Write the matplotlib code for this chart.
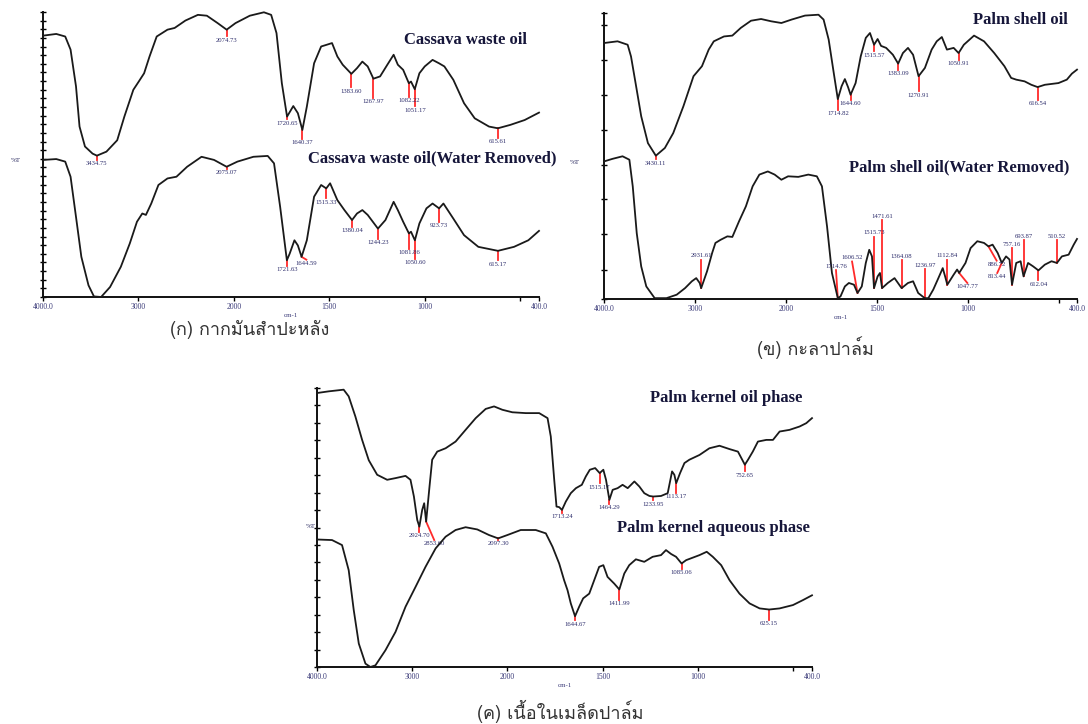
import numpy as np
import matplotlib
matplotlib.use("Agg")

import matplotlib.pyplot as plt
from matplotlib import font_manager
from matplotlib.ft2font import FT2Font


# =====================================================
# SHARED AXIS TEXT
# =====================================================

xtick_values = [4000, 3000, 2000, 1500, 1000, 500, 400]
xtick_labels = ["4000.0", "3000", "2000", "1500", "1000", "", "400.0"]


# =====================================================
# (ก) CASSAVA WASTE OIL
# =====================================================

cassava_wn = [
    4000, 3861, 3767, 3711, 3654, 3617, 3560, 3480, 3434.75, 3335,
    3222, 3147, 3053, 2996, 2940, 2883, 2808, 2695, 2620, 2507,
    2376, 2282, 2169, 2074.73, 1991, 1916, 1842, 1804, 1776, 1748,
    1720.65, 1688, 1664, 1640.37, 1617, 1579, 1542, 1513, 1485, 1457,
    1429, 1383.60, 1354, 1326, 1298, 1267.97, 1233, 1195, 1162, 1140,
    1112, 1082.22, 1071, 1051.17, 1027, 999, 958, 924, 896, 849,
    793, 737, 662, 615.61, 550, 475, 400
]
cassava_t = [
    91.7, 92.3, 91.4, 86.8, 73.9, 59.8, 52.8, 50.3, 49.6, 51.0,
    55.0, 63.3, 72.7, 75.6, 78.5, 84.4, 91.4, 93.8, 94.4, 97.0,
    99.0, 98.7, 96.1, 93.8, 96.1, 98.7, 99.9, 99.0, 92.6, 75.0,
    63.3, 67.0, 64.5, 58.6, 66.8, 82.0, 87.9, 88.5, 89.1, 84.4,
    81.5, 78.3, 80.3, 82.6, 80.9, 76.6, 77.4, 81.5, 85.0, 81.5,
    79.7, 75.0, 75.6, 72.9, 78.5, 80.9, 83.2, 82.0, 80.9, 76.2,
    68.0, 62.7, 59.8, 59.2, 60.4, 62.1, 64.7
]
cassava_peaks = [3434.75, 2074.73, 1720.65, 1640.37, 1383.60,
                 1267.97, 1082.22, 1051.17, 615.61]

cassava_dry_wn = [
    4000, 3861, 3767, 3711, 3654, 3598, 3523, 3466, 3391, 3297,
    3184, 3090, 3015, 2959, 2921, 2865, 2790, 2695, 2601, 2489,
    2338, 2207, 2075.07, 1981, 1897, 1822, 1789, 1757, 1721.63, 1707,
    1682, 1664, 1644.59, 1617, 1579, 1542, 1515.33, 1495, 1457, 1420,
    1380.04, 1354, 1326, 1298, 1244.23, 1205, 1162, 1140, 1112, 1081.86,
    1071, 1050.60, 1027, 990, 958, 923.73, 901, 849, 793, 718,
    615.17, 531, 456, 400
]
cassava_dry_t = [
    48.1, 48.4, 47.5, 42.2, 28.1, 14.1, 4.1, 0.2, 0.0, 3.5,
    10.6, 18.8, 26.4, 29.3, 28.8, 32.8, 39.3, 41.6, 42.2, 45.7,
    49.2, 48.1, 45.7, 47.5, 49.2, 49.5, 46.9, 31.7, 12.9, 15.2,
    19.9, 18.1, 14.1, 19.9, 35.2, 39.3, 38.1, 39.9, 34.0, 30.5,
    27.0, 29.3, 30.5, 28.8, 24.0, 27.0, 33.4, 30.5, 26.4, 22.3,
    22.9, 19.9, 25.8, 31.1, 32.8, 31.1, 32.8, 27.5, 21.7, 17.6,
    16.2, 17.6, 19.9, 23.2
]
cassava_dry_peaks = [2075.07, 1721.63, 1644.59, 1515.33, 1380.04,
                     1244.23, 1081.86, 1050.60, 923.73, 615.17]


# =====================================================
# (ข) PALM SHELL OIL
# =====================================================

shell_wn = [
    4000, 3851, 3740, 3703, 3647, 3591, 3517, 3430.11, 3331, 3239,
    3127, 3016, 2923, 2849, 2793, 2681, 2589, 2496, 2384, 2273,
    2162, 2050, 1969, 1895, 1821, 1793, 1765, 1737, 1714.82, 1694,
    1676, 1658, 1644.60, 1617, 1589, 1561, 1538, 1515.57, 1496, 1477,
    1449, 1412, 1383.09, 1357, 1329, 1301, 1270.91, 1236, 1199, 1171,
    1143, 1115, 1078, 1050.91, 1022, 966, 911, 855, 799, 762,
    734, 688, 651, 616.54, 577, 502, 456, 428, 400
]
shell_t = [
    89.5, 90.1, 88.9, 84.8, 74.4, 63.9, 54.5, 50.1, 52.8, 58.0,
    67.4, 77.9, 81.4, 87.2, 90.1, 91.8, 92.1, 94.8, 97.3, 97.9,
    97.1, 96.5, 97.7, 99.1, 99.4, 97.7, 90.7, 79.0, 69.9, 74.4,
    76.9, 74.0, 71.4, 75.5, 84.8, 91.3, 93.0, 88.9, 90.9, 88.5,
    87.8, 85.4, 82.3, 86.0, 87.8, 85.4, 77.9, 80.8, 87.2, 90.1,
    91.6, 87.2, 87.8, 86.0, 88.9, 92.1, 90.1, 86.0, 81.4, 77.3,
    76.7, 76.1, 74.9, 74.1, 74.9, 75.5, 76.7, 78.8, 80.2
]
shell_peaks = [3430.11, 1714.82, 1644.60, 1515.57, 1383.09,
               1270.91, 1050.91, 616.54]

shell_dry_wn = [
    4000, 3907, 3796, 3721, 3684, 3640, 3591, 3535, 3443, 3313,
    3201, 3109, 3034, 2986, 2948, 2931.61, 2867, 2811, 2775, 2718,
    2644, 2589, 2515, 2440, 2366, 2292, 2199, 2124, 2050, 1988,
    1932, 1877, 1830, 1802, 1774, 1747, 1714.76, 1700, 1676, 1654,
    1626, 1606.52, 1583, 1561, 1542, 1527, 1515.73, 1496, 1483, 1471.61,
    1440, 1403, 1364.08, 1329, 1301, 1273, 1236.97, 1217, 1190, 1162,
    1138, 1125, 1112.84, 1078, 1059, 1047.77, 1013, 985, 948, 911,
    886.72, 864, 836, 813.44, 790, 771, 757.16, 734, 710, 693.87,
    669, 641, 612.04, 577, 540, 510.52, 483, 446, 418, 400
]
shell_dry_t = [
    48.1, 49.0, 49.9, 48.7, 39.4, 23.0, 11.4, 4.4, 0.3, 0.3,
    1.5, 3.8, 6.2, 7.3, 5.6, 3.8, 9.7, 16.1, 19.6, 20.7,
    21.9, 21.7, 27.2, 32.4, 39.4, 43.5, 44.6, 43.5, 41.7, 42.9,
    42.7, 43.5, 42.9, 39.4, 25.4, 9.1, 0.3, 0.9, 4.4, 5.6,
    5.0, 2.1, 4.4, 12.6, 17.2, 14.9, 3.8, 7.9, 9.1, 3.8,
    5.6, 7.3, 3.8, 5.6, 6.2, 2.1, 0.3, 0.3, 3.3, 7.3,
    10.8, 7.9, 5.0, 8.5, 10.3, 9.1, 12.6, 17.8, 20.2, 19.6,
    18.4, 19.0, 16.1, 12.6, 14.9, 13.8, 5.0, 12.6, 13.2, 7.9,
    12.6, 11.4, 10.0, 12.0, 13.2, 12.6, 14.9, 15.5, 19.0, 21.0
]
shell_dry_peaks = [2931.61, 1714.76, 1606.52, 1515.73, 1471.61,
                   1364.08, 1236.97, 1112.84, 1047.77, 886.72,
                   813.44, 757.16, 693.87, 612.04, 510.52]


# =====================================================
# (ค) PALM KERNEL
# =====================================================

kernel_oil_wn = [
    4000, 3877, 3720, 3667, 3597, 3526, 3456, 3368, 3263, 3175,
    3070, 3018, 2982, 2947, 2924.70, 2895, 2874, 2853.60, 2818, 2790,
    2737, 2649, 2544, 2439, 2333, 2228, 2140, 2053, 1974, 1904,
    1833, 1789, 1772, 1754, 1742, 1728, 1713.24, 1693, 1667, 1640,
    1609, 1588, 1567, 1539, 1515.17, 1496, 1482, 1464.29, 1447, 1421,
    1395, 1368, 1333, 1307, 1281, 1254, 1233.95, 1193, 1158, 1135,
    1123, 1113.17, 1093, 1070, 1044, 991, 939, 886, 833, 789,
    752.65, 736, 711, 684, 640, 605, 570, 518, 465, 430,
    400
]
kernel_oil_t = [
    98.2, 98.8, 99.4, 97.0, 89.8, 81.4, 74.1, 68.9, 67.1, 67.7,
    68.5, 67.1, 61.1, 52.7, 50.3, 56.3, 58.7, 52.1, 64.7, 74.3,
    77.2, 78.4, 80.8, 85.0, 89.2, 92.5, 93.4, 92.2, 91.3, 91.0,
    91.0, 89.2, 82.6, 67.1, 57.5, 57.3, 56.3, 59.3, 62.3, 64.1,
    65.3, 68.3, 70.7, 71.3, 69.5, 70.7, 67.1, 59.9, 63.5, 64.1,
    65.3, 64.1, 66.5, 64.7, 62.3, 61.3, 61.1, 61.3, 62.3, 70.1,
    68.9, 65.9, 69.5, 73.1, 74.3, 76.0, 78.4, 79.3, 78.1, 77.2,
    72.5, 74.3, 77.2, 80.8, 81.4, 81.4, 84.4, 85.0, 86.2, 87.4,
    89.2
]
kernel_oil_peaks = [2924.70, 2853.60, 1713.24, 1515.17, 1464.29,
                    1233.95, 1113.17, 752.65]

kernel_aq_wn = [
    4000, 3842, 3737, 3667, 3614, 3561, 3491, 3439, 3386, 3281,
    3175, 3070, 2965, 2860, 2754, 2649, 2544, 2439, 2316, 2193,
    2097.30, 2000, 1930, 1851, 1798, 1763, 1728, 1702, 1684, 1667,
    1644.67, 1623, 1602, 1570, 1544, 1518, 1496, 1474, 1439, 1411.99,
    1386, 1360, 1325, 1281, 1237, 1193, 1167, 1140, 1114, 1085.06,
    1061, 1026, 991, 953, 921, 877, 833, 781, 728, 675,
    625.15, 570, 500, 447, 400
]
kernel_aq_t = [
    45.7, 45.5, 43.7, 34.7, 20.4, 8.4, 1.2, 0.0, 0.6, 6.0,
    12.6, 21.6, 28.7, 35.9, 42.5, 46.7, 49.1, 50.1, 49.3, 47.3,
    46.1, 47.3, 49.1, 49.1, 47.9, 43.1, 37.1, 31.1, 27.5, 22.8,
    18.2, 21.6, 24.6, 26.3, 31.1, 35.9, 36.5, 32.3, 29.9, 27.8,
    33.5, 36.5, 38.6, 37.7, 39.5, 40.1, 41.9, 40.5, 39.5, 37.1,
    38.3, 39.2, 40.1, 41.3, 39.5, 36.5, 31.1, 26.3, 22.8, 21.0,
    20.6, 21.0, 22.2, 24.0, 25.7
]
kernel_aq_peaks = [2097.30, 1644.67, 1411.99, 1085.06, 625.15]


# =====================================================
# PEAK MARKER LAYOUT
# length of red tick (+ below curve, - above), label x shift in cm-1
# =====================================================

cassava_marks = [(1.5, 0), (2.3, 0), (1.0, 0), (3.0, 0), (4.7, 0),
                 (6.8, 0), (4.7, 0), (6.0, 0), (3.3, 0)]
cassava_dry_marks = [(0.8, 0), (2.0, 0), (1.0, -25), (3.5, 0), (2.3, 0),
                     (3.5, 0), (5.3, 0), (6.4, 0), (4.7, 0), (3.3, 0)]
shell_marks = [(1.2, 0), (3.7, 0), (1.7, 0), (2.3, 0), (2.1, 0),
               (5.2, 0), (2.3, 0), (4.4, 0)]
shell_dry_marks = [(-10.0, 0), (-9.8, 10), (-11.0, 30), (-18.0, 0),
                   (-23.8, 0), (-9.8, 0), (-10.2, 0), (-8.7, 0),
                   (3.5, -45), (5.0, -45), (3.5, 25), (-12.8, 0),
                   (-12.7, 0), (3.4, 0), (-8.0, 0)]
kernel_oil_marks = [(1.8, 0), (6.6, -85), (1.0, 0), (3.6, 0), (1.5, 0),
                    (1.4, 0), (3.4, 0), (2.4, 0)]
kernel_aq_marks = [(0.5, 0), (1.4, 0), (3.8, 0), (1.8, 0), (3.6, 0)]


# =====================================================
# FONTS
# =====================================================

def find_thai_family():

    for entry in font_manager.fontManager.ttflist:
        try:
            if 0x0E01 in FT2Font(entry.fname).get_charmap():
                return entry.name
        except Exception:
            continue

    return "DejaVu Sans"


THAI_FAMILY = find_thai_family()
SERIF = ["Liberation Serif", "DejaVu Serif"]


# =====================================================
# SPLIT WAVENUMBER SCALE (4000-2000 drawn at half density)
# =====================================================

def wn_forward(x):
    x = np.asarray(x, dtype=float)
    return np.where(x > 2000, 2000 + (x - 2000) / 2, x)


def wn_inverse(x):
    x = np.asarray(x, dtype=float)
    return np.where(x > 2000, 2000 + (x - 2000) * 2, x)


W, H = 1088, 724

fig = plt.figure(figsize=(W / 100, H / 100), dpi=100)


def add_frame(x0, y0, x1, y1, yticks):

    ax = fig.add_axes([x0 / W, 1 - y1 / H, (x1 - x0) / W, (y1 - y0) / H])
    ax.set_xscale("function", functions=(wn_forward, wn_inverse))
    ax.set_xlim(4000, 400)
    ax.set_ylim(0, 100)
    ax.patch.set_alpha(0)

    for side in ["top", "right"]:
        ax.spines[side].set_visible(False)
    for side in ["left", "bottom"]:
        ax.spines[side].set_linewidth(1.4)
        ax.spines[side].set_color("#111111")

    ax.set_xticks(xtick_values)
    ax.set_xticklabels(xtick_labels)
    ax.xaxis.set_minor_locator(matplotlib.ticker.NullLocator())
    ax.tick_params(axis="x", direction="out", length=3, width=1,
                   pad=1.5, labelsize=5.5, labelcolor="#3a3a78")
    for lbl in ax.get_xticklabels():
        lbl.set_family(SERIF)

    ax.set_yticks(yticks)
    ax.set_yticklabels([])
    ax.tick_params(axis="y", direction="inout", length=4, width=1)

    ax.set_xlabel("cm-1", fontsize=5, family=SERIF, color="#3a3a78",
                  labelpad=1)

    return ax


def draw_spectrum(ax, wn, t, peaks, marks):

    ax.plot(wn, t, color="#1a1a1a", lw=1.3, solid_joinstyle="round",
            clip_on=False, zorder=3)

    order = np.argsort(wn)
    wn_sorted = np.asarray(wn)[order]
    t_sorted = np.asarray(t)[order]

    for peak, (length, shift) in zip(peaks, marks):

        y0 = np.interp(peak, wn_sorted, t_sorted)
        y1 = y0 - length
        x1 = peak + shift

        ax.plot([peak, x1], [y0, y1], color="#ff2a2a", lw=1.3,
                zorder=2, clip_on=False)

        if length >= 0:
            ax.text(x1, y1 - 0.5, f"{peak:.2f}", ha="center", va="top",
                    fontsize=4.8, family=SERIF, color="#2b2b6a")
        else:
            ax.text(x1, y1 + 0.5, f"{peak:.2f}", ha="center", va="bottom",
                    fontsize=4.8, family=SERIF, color="#2b2b6a")


def title(x_right, y_mid, text):
    fig.text(x_right / W, 1 - y_mid / H, text, ha="right", va="center",
             fontsize=12, fontweight="bold", family=SERIF, color="#16163a")


def plain(x, y, text, size, family, color):
    fig.text(x / W, 1 - y / H, text, ha="center", va="center",
             fontsize=size, family=family, color=color)


# =====================================================
# FRAME (ก)
# =====================================================

ax_a = add_frame(43, 12, 539, 297, np.linspace(0, 100, 34))
draw_spectrum(ax_a, cassava_wn, cassava_t, cassava_peaks, cassava_marks)
draw_spectrum(ax_a, cassava_dry_wn, cassava_dry_t, cassava_dry_peaks,
              cassava_dry_marks)

title(527, 40, "Cassava waste oil")
title(557, 158, "Cassava waste oil(Water Removed)")
plain(16, 161, "%T", 5, SERIF, "#333366")
plain(250, 329, "(ก) กากมันสำปะหลัง", 13, [THAI_FAMILY, "DejaVu Sans"],
      "#333333")


# =====================================================
# FRAME (ข)
# =====================================================

ax_b = add_frame(604, 13, 1077, 299,
                 [0, 10.3, 22.6, 34.8, 47.0, 59.2, 71.5, 83.7, 95.9, 100])
draw_spectrum(ax_b, shell_wn, shell_t, shell_peaks, shell_marks)
draw_spectrum(ax_b, shell_dry_wn, shell_dry_t, shell_dry_peaks,
              shell_dry_marks)

title(1068, 20, "Palm shell oil")
title(1069, 167, "Palm shell oil(Water Removed)")
plain(575, 163, "%T", 5, SERIF, "#333366")
plain(815, 348, "(ข) กะลาปาล์ม", 13, [THAI_FAMILY, "DejaVu Sans"],
      "#333333")


# =====================================================
# FRAME (ค)
# =====================================================

ax_c = add_frame(317, 388, 812, 667, np.linspace(0, 100, 17))
draw_spectrum(ax_c, kernel_oil_wn, kernel_oil_t, kernel_oil_peaks,
              kernel_oil_marks)
draw_spectrum(ax_c, kernel_aq_wn, kernel_aq_t, kernel_aq_peaks,
              kernel_aq_marks)

title(802, 398, "Palm kernel oil phase")
title(810, 528, "Palm kernel aqueous phase")
plain(311, 527, "%T", 5, SERIF, "#333366")
plain(560, 711, "(ค) เนื้อในเมล็ดปาล์ม", 13, [THAI_FAMILY, "DejaVu Sans"],
      "#333333")


fig.savefig("out.png", dpi=100, facecolor="white")
